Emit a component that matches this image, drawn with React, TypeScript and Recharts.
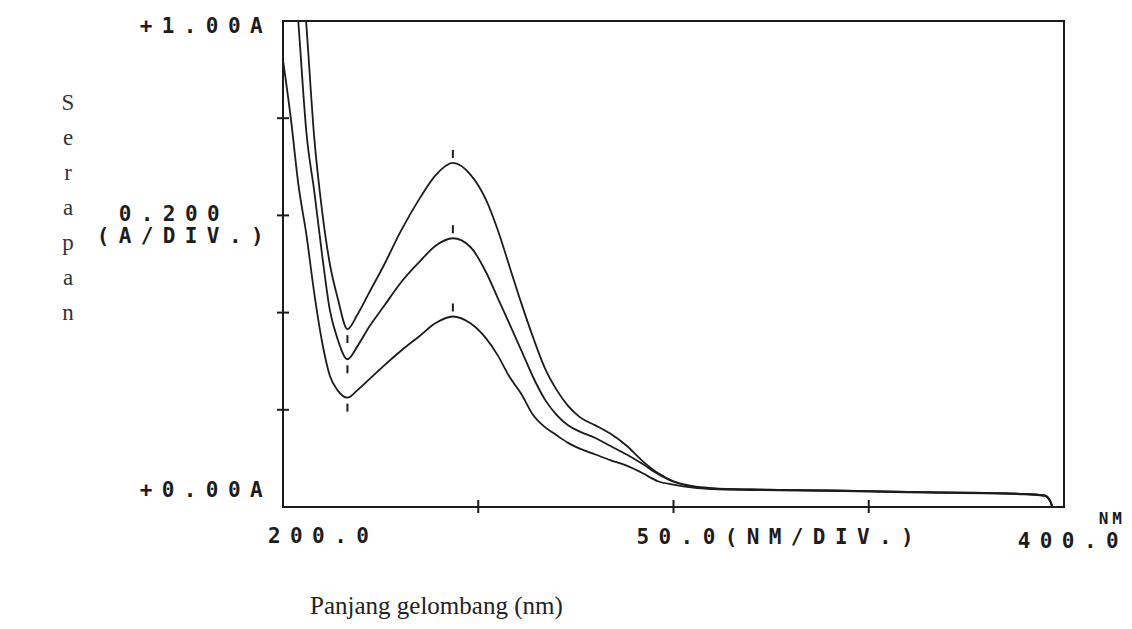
import { ComposedChart, Line, XAxis, YAxis, ReferenceArea, ReferenceDot } from 'recharts'

// wavelength grid (nm) and absorbance, three concentrations
const wavelengths = [200, 202, 204, 206, 208, 210, 212, 214, 216.5, 219, 222, 226, 230, 235, 239, 243.5, 248, 252, 255, 258, 261, 264, 267, 270, 273, 276, 280, 284, 288, 292, 296, 300, 305, 310, 320, 340, 360, 380, 390, 395, 396.5, 397]

const serapanTinggi = [1.8, 1.5, 1.2, 0.99, 0.76, 0.61, 0.5, 0.43, 0.366, 0.395, 0.44, 0.5, 0.565, 0.635, 0.682, 0.708, 0.684, 0.632, 0.57, 0.495, 0.42, 0.35, 0.287, 0.242, 0.208, 0.185, 0.168, 0.15, 0.126, 0.095, 0.07, 0.053, 0.043, 0.039, 0.036, 0.034, 0.031, 0.029, 0.027, 0.024, 0.012, 0]
const serapanSedang = [1.5, 1.2, 0.99, 0.77, 0.65, 0.52, 0.405, 0.345, 0.304, 0.33, 0.37, 0.415, 0.46, 0.505, 0.537, 0.553, 0.535, 0.483, 0.43, 0.377, 0.323, 0.268, 0.222, 0.19, 0.168, 0.155, 0.142, 0.125, 0.108, 0.089, 0.068, 0.052, 0.042, 0.038, 0.036, 0.034, 0.031, 0.029, 0.027, 0.024, 0.012, 0]
const serapanRendah = [0.92, 0.8, 0.66, 0.56, 0.44, 0.34, 0.27, 0.24, 0.225, 0.24, 0.262, 0.292, 0.32, 0.352, 0.378, 0.392, 0.378, 0.347, 0.312, 0.268, 0.233, 0.19, 0.165, 0.148, 0.132, 0.12, 0.108, 0.096, 0.085, 0.07, 0.053, 0.046, 0.04, 0.037, 0.035, 0.033, 0.03, 0.028, 0.026, 0.023, 0.011, 0]

// peak / valley pick marks
const puncakNm = [243.5, 243.5, 243.5]
const puncakAbs = [0.708, 0.553, 0.392]
const lembahNm = [216.5, 216.5, 216.5]
const lembahAbs = [0.366, 0.304, 0.225]

const xTicks = [200, 250, 300, 350, 400]
const yTicks = [0, 0.2, 0.4, 0.6, 0.8, 1]
const yLetters = ['S', 'e', 'r', 'a', 'p', 'a', 'n']

const data = wavelengths.map((nm, i) => ({
  nm,
  tinggi: serapanTinggi[i],
  sedang: serapanSedang[i],
  rendah: serapanRendah[i],
}))

const ink = '#1c1c1c'
const plotFont = { fontFamily: '"DejaVu Sans Mono", monospace', fontSize: 21, letterSpacing: 9.4, fill: ink, fontWeight: 'bold' as const }

function LeftTick({ x, y, payload }: any) {
  const v = payload.value
  return (
    <g>
      {v > 0 && v < 1 && <line x1={x - 6} x2={x + 6} y1={y} y2={y} stroke={ink} strokeWidth={2} />}
      {v === 1 && <text x={x - 11} y={y + 12} textAnchor="end" {...plotFont}>+1.00A</text>}
      {v === 0 && <text x={x - 11} y={y - 10} textAnchor="end" {...plotFont}>+0.00A</text>}
      {v === 0.6 && (
        <>
          {/* 0.200 sits one column in, right above A/DIV */}
          <text x={x - 54} y={y + 6} textAnchor="end" {...plotFont}>0.200</text>
          <text x={x - 10} y={y + 28} textAnchor="end" {...plotFont}>(A/DIV.)</text>
        </>
      )}
    </g>
  )
}

function RightTick({ x, y, payload }: any) {
  const v = payload.value
  if (v <= 0 || v >= 1) return null
  return <line x1={x - 6} x2={x + 4} y1={y} y2={y} stroke={ink} strokeWidth={2} />
}

function BottomTick({ x, y, payload }: any) {
  const v = payload.value
  return (
    <g>
      {v > 200 && v < 400 && <line x1={x} x2={x} y1={y - 7} y2={y + 6} stroke={ink} strokeWidth={2} />}
      {v === 200 && <text x={x - 15} y={y + 36} textAnchor="start" {...plotFont}>200.0</text>}
      {v === 300 && <text x={x - 37} y={y + 37} textAnchor="start" {...plotFont}>50.0(NM/DIV.)</text>}
      {v === 400 && (
        <>
          <text x={x + 64} y={y + 41} textAnchor="end" {...plotFont}>400.0</text>
          <text x={x + 62} y={y + 17} textAnchor="end" {...plotFont} fontSize={16} letterSpacing={4}>NM</text>
        </>
      )}
    </g>
  )
}

function TopTick({ x, y, payload }: any) {
  const v = payload.value
  if (v <= 200 || v >= 400) return null
  return <line x1={x} x2={x} y1={y - 4} y2={y + 6} stroke={ink} strokeWidth={2} />
}

const PeakMark = ({ cx, cy }: any) => <line x1={cx} x2={cx} y1={cy - 13} y2={cy - 5} stroke={ink} strokeWidth={2} />
const ValleyMark = ({ cx, cy }: any) => <line x1={cx} x2={cx} y1={cy + 6} y2={cy + 14} stroke={ink} strokeWidth={2} />

export default function App() {
  return (
    <div style={{ position: 'absolute', left: 0, top: 0, width: 1132, height: 629, background: '#fff' }}>
      <ComposedChart width={1132} height={629} data={data} margin={{ top: 21, right: 68, left: 0, bottom: 0 }}>
        <XAxis xAxisId="b" type="number" dataKey="nm" domain={[200, 400]} ticks={xTicks} interval={0} allowDataOverflow
          height={122} tickSize={0} tickMargin={0} tickLine={false} axisLine={{ stroke: ink, strokeWidth: 2 }} tick={<BottomTick />} />
        <XAxis xAxisId="t" orientation="top" type="number" dataKey="nm" domain={[200, 400]} ticks={xTicks} interval={0}
          height={0} tickSize={0} tickMargin={0} tickLine={false} axisLine={{ stroke: ink, strokeWidth: 2 }} tick={<TopTick />} />
        <YAxis yAxisId="l" type="number" domain={[0, 1]} ticks={yTicks} interval={0} allowDataOverflow
          width={283} tickSize={0} tickMargin={0} tickLine={false} axisLine={{ stroke: ink, strokeWidth: 2 }} tick={<LeftTick />} />
        <YAxis yAxisId="r" orientation="right" type="number" domain={[0, 1]} ticks={yTicks} interval={0} allowDataOverflow
          width={0} tickSize={0} tickMargin={0} tickLine={false} axisLine={{ stroke: ink, strokeWidth: 2 }} tick={<RightTick />} />
        <ReferenceArea xAxisId="b" yAxisId="l" x1={200} x2={400} y1={0} y2={1} fill="none" stroke={ink} strokeWidth={2} />
        <Line xAxisId="b" yAxisId="l" type="monotone" dataKey="tinggi" stroke={ink} strokeWidth={1.8} dot={false} isAnimationActive={false} />
        <Line xAxisId="b" yAxisId="l" type="monotone" dataKey="sedang" stroke={ink} strokeWidth={1.8} dot={false} isAnimationActive={false} />
        <Line xAxisId="b" yAxisId="l" type="monotone" dataKey="rendah" stroke={ink} strokeWidth={1.8} dot={false} isAnimationActive={false} />
        {puncakNm.map((nm, i) => (
          <ReferenceDot key={'p' + i} xAxisId="b" yAxisId="l" x={nm} y={puncakAbs[i]} r={0} shape={PeakMark} />
        ))}
        {lembahNm.map((nm, i) => (
          <ReferenceDot key={'l' + i} xAxisId="b" yAxisId="l" x={nm} y={lembahAbs[i]} r={0} shape={ValleyMark} />
        ))}
      </ComposedChart>
      {yLetters.map((ch, i) => (
        <div key={i} style={{ position: 'absolute', left: 58, top: 90 + i * 35, width: 20, textAlign: 'center',
          fontFamily: '"Liberation Serif", serif', fontSize: 23, color: '#333', lineHeight: '26px' }}>{ch}</div>
      ))}
      <div style={{ position: 'absolute', left: 310, top: 591, fontFamily: '"Liberation Serif", serif', fontSize: 25,
        color: '#222', lineHeight: '30px', whiteSpace: 'nowrap' }}>Panjang gelombang (nm)</div>
    </div>
  )
}
